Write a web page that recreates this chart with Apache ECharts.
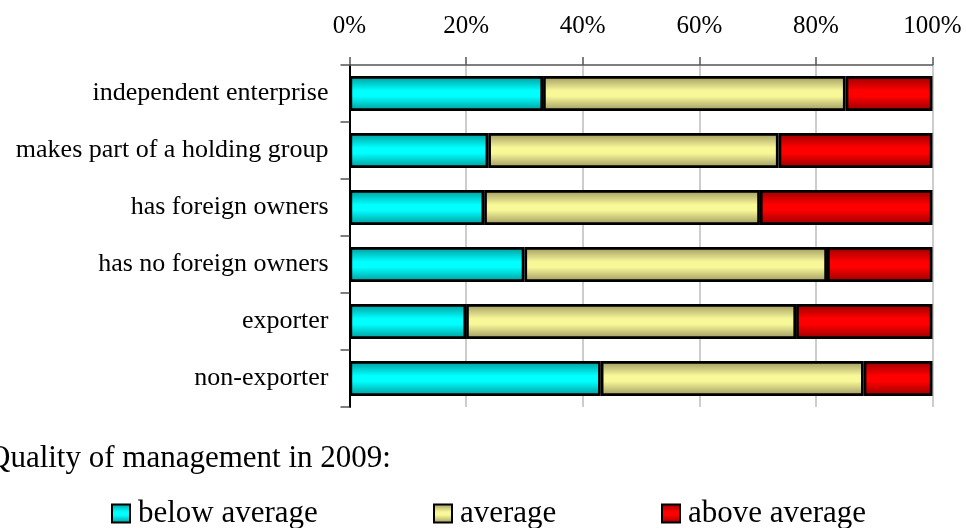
<!DOCTYPE html>
<html>
<head>
<meta charset="utf-8">
<script src="https://cdn.jsdelivr.net/npm/echarts@6/dist/echarts.min.js"></script>
<style>
  html, body { margin: 0; padding: 0; background: #fff; }
  #chart { width: 966px; height: 528px; }
</style>
</head>
<body>
<div id="chart"></div>
<script>
// Share of firms by quality of management, per firm type (percent)
const categories = [
  'independent enterprise',
  'makes part of a holding group',
  'has foreign owners',
  'has no foreign owners',
  'exporter',
  'non-exporter'
];
const seriesNames = ['below average', 'average', 'above average'];
const belowAverage = [33.2, 23.8, 23.1, 30.0, 20.0, 43.1];
const average      = [51.9, 49.8, 47.3, 51.9, 56.6, 45.1];
const aboveAverage = [14.9, 26.4, 29.6, 18.1, 23.4, 11.8];
const tickValues = [0, 20, 40, 60, 80, 100];

const FONT = '"Liberation Serif", "Times New Roman", serif';

// Vertical shading: darker edges, bright middle
function shade(edge, mid) {
  return new echarts.graphic.LinearGradient(0, 0, 0, 1, [
    { offset: 0, color: edge },
    { offset: 0.42, color: mid },
    { offset: 0.58, color: mid },
    { offset: 1, color: edge }
  ]);
}
const fills = [
  shade('#009898', '#00ffff'),
  shade('#9c9660', '#f8f898'),
  shade('#960000', '#ff0000')
];
const values = [belowAverage, average, aboveAverage];

// One legend block per entry so each sits at its own horizontal position
const legendLefts = [111, 433, 661];
const legends = seriesNames.map((name, i) => ({
  data: [name],
  left: legendLefts[i],
  top: 498,
  padding: 0,
  itemWidth: 18,
  itemHeight: 18,
  icon: 'rect',
  selectedMode: false,
  textStyle: { fontFamily: FONT, fontSize: 31, color: '#000', padding: [0, 0, 0, 3] },
  itemStyle: { borderColor: '#000', borderWidth: 2 }
}));

const chart = echarts.init(document.getElementById('chart'), null, { renderer: 'canvas' });

chart.setOption({
  animation: false,
  backgroundColor: '#ffffff',
  title: {
    text: 'Quality of management in 2009:',
    left: -12,
    top: 443,
    padding: 0,
    textStyle: { fontFamily: FONT, fontSize: 31, fontWeight: 'normal', color: '#000' }
  },
  legend: legends,
  grid: { left: 349.5, right: 33.5, top: 65, bottom: 121, containLabel: false },
  xAxis: {
    type: 'value',
    position: 'top',
    min: 0,
    max: 100,
    interval: 20,
    axisLine: { show: true, lineStyle: { color: '#555', width: 1.5 } },
    axisTick: { show: true, length: 8, inside: false, lineStyle: { color: '#555', width: 1.5 } },
    axisLabel: {
      margin: 26,
      fontFamily: FONT,
      fontSize: 25,
      color: '#000',
      formatter: v => (tickValues.includes(v) ? v + '%' : '')
    },
    splitLine: { show: true, lineStyle: { color: '#bdbdbd', width: 1.5 } }
  },
  yAxis: {
    type: 'category',
    data: categories,
    inverse: true,
    axisLine: { show: true, lineStyle: { color: '#000', width: 2 } },
    axisTick: { show: true, length: 9, lineStyle: { color: '#555', width: 1.5 } },
    axisLabel: { margin: 21, fontFamily: FONT, fontSize: 26, color: '#000' },
    splitLine: { show: false }
  },
  series: seriesNames.map((name, i) => ({
    name: name,
    type: 'bar',
    stack: 'share',
    barWidth: 35,
    data: values[i],
    itemStyle: { color: fills[i], borderColor: '#000', borderWidth: 2.7 },
    emphasis: { disabled: true }
  }))
});
</script>
</body>
</html>
